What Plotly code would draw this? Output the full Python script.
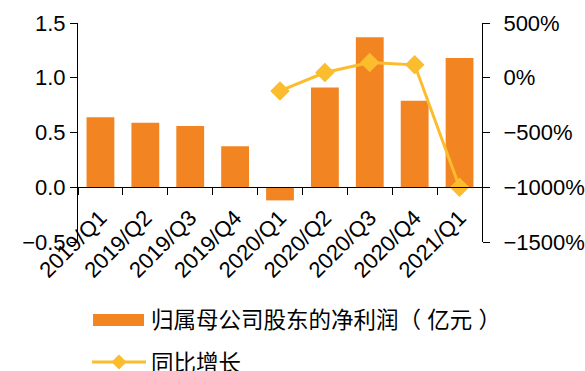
import plotly.graph_objects as go

categories = ["2019/Q1", "2019/Q2", "2019/Q3", "2019/Q4", "2020/Q1",
              "2020/Q2", "2020/Q3", "2020/Q4", "2021/Q1"]
net_profit = [0.64, 0.59, 0.56, 0.375, -0.12, 0.91, 1.37, 0.79, 1.18]
yoy_growth = [None, None, None, None, -120, 48, 140, 118, -1000]
bar_name = "归属母公司股东的净利润（ 亿元 ）"
line_name = "同比增长"

BAR_COLOR = "#F28522"
LINE_COLOR = "#FBBC2D"
FONT = "Liberation Sans, Arial, Noto Sans CJK SC"

# plot area in pixels
L, R, T, B = 78, 482, 23, 242
W, H = R - L, B - T


def px(x):
    return (x - L) / W


def py(y):
    return (B - y) / H


fig = go.Figure()
fig.add_trace(go.Bar(x=categories, y=net_profit, name=bar_name,
                     marker=dict(color=BAR_COLOR, line=dict(width=0)),
                     width=0.62, showlegend=False))
fig.add_trace(go.Scatter(x=categories, y=yoy_growth, name=line_name, yaxis="y2",
                         mode="lines+markers",
                         line=dict(color=LINE_COLOR, width=3),
                         marker=dict(symbol="diamond", size=15, color=LINE_COLOR),
                         showlegend=False))

# manual legend
shapes = [
    dict(type="rect", xref="paper", yref="paper",
         x0=px(93), x1=px(144), y0=py(326), y1=py(314),
         fillcolor=BAR_COLOR, line=dict(width=0)),
    dict(type="line", xref="paper", yref="paper",
         x0=px(92), x1=px(146), y0=py(362), y1=py(362),
         line=dict(color=LINE_COLOR, width=3)),
    dict(type="path", xref="paper", yref="paper",
         path=("M {a},{b} L {c},{d} L {a},{e} L {f},{d} Z").format(
             a=px(119), b=py(354.5), c=px(126.5), d=py(362), e=py(369.5), f=px(111.5)),
         fillcolor=LINE_COLOR, line=dict(width=0)),
]
annotations = [
    dict(xref="paper", yref="paper", x=px(149), y=py(320), text=bar_name,
         showarrow=False, xanchor="left", yanchor="middle",
         font=dict(size=22.5, color="black", family=FONT)),
    dict(xref="paper", yref="paper", x=px(149), y=py(363), text=line_name,
         showarrow=False, xanchor="left", yanchor="middle",
         font=dict(size=22.5, color="black", family=FONT)),
]

fig.update_layout(
    width=585, height=371,
    margin=dict(l=L, r=585 - R, t=T, b=371 - B, pad=0, autoexpand=False),
    paper_bgcolor="white", plot_bgcolor="white",
    font=dict(family=FONT, size=22, color="black"),
    shapes=shapes, annotations=annotations,
    showlegend=False,
    xaxis=dict(type="category", anchor="free", position=0.25,
               range=[-0.5, 8.5], automargin=False,
               showline=True, linecolor="black", linewidth=1,
               ticks="outside", tickson="boundaries", ticklen=7,
               tickcolor="black", tickangle=-45, showgrid=False,
               ticklabelstandoff=8,
               tickfont=dict(size=22)),
    yaxis=dict(range=[-0.5, 1.5], dtick=0.5, tickformat=".1f",
               automargin=False,
               showline=True, linecolor="black", linewidth=1,
               ticks="outside", ticklen=7, tickcolor="black",
               showgrid=False, zeroline=False, tickfont=dict(size=22)),
    yaxis2=dict(range=[-1500, 500], dtick=500, ticksuffix="%",
                overlaying="y", side="right", automargin=False,
                showline=True, linecolor="black", linewidth=1,
                ticks="outside", ticklen=7, tickcolor="black",
                ticklabelstandoff=9,
                showgrid=False, zeroline=False, tickfont=dict(size=22)),
)

fig.write_html("out.html")
